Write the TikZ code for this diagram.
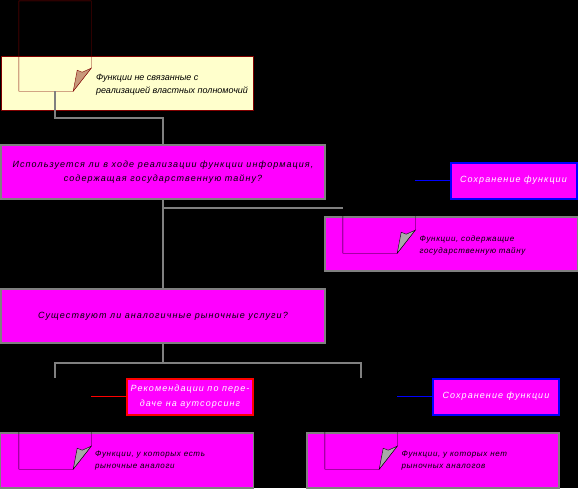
\documentclass[tikz,border=0pt]{standalone}
\usepackage{fontspec}
\setmainfont{Liberation Sans}
\usetikzlibrary{calc,positioning}
\definecolor{boxmagenta}{HTML}{FF00FF}
\definecolor{noteyellow}{HTML}{FFFFCC}
\definecolor{notered}{HTML}{800000}
\definecolor{foldtan}{HTML}{C8987A}
\definecolor{foldgray}{HTML}{A8A8A8}
\definecolor{linegray}{HTML}{808080}
\definecolor{keepblue}{HTML}{0000FF}
\definecolor{outred}{HTML}{FF0000}

% note icon with folded corner: node, line colour, fold fill
\newcommand{\notefold}[3]{%
  \draw[#2] (#1.north west) -- (#1.north east) -- ($(#1.south east)+(0,-23)$)
    -- ($(#1.south east)+(-18,0)$) -- (#1.south west) -- cycle;
  \filldraw[draw=#2,fill=#3] ($(#1.south east)+(-18,0)$) -- ($(#1.south east)+(-14,-21)$)
    -- ($(#1.south east)+(-9,-19)$) -- ($(#1.south east)+(0,-23)$) -- cycle;
}

\begin{document}
\begin{tikzpicture}[
    x=1pt,y=-1pt,
    font=\fontsize{9}{13}\selectfont\itshape,
    questionbox/.style={draw=linegray,line width=1.6pt,fill=boxmagenta,
      minimum width=324pt,minimum height=54pt,inner sep=0pt,align=center,
      font=\fontsize{9}{14.5}\selectfont\itshape\addfontfeature{LetterSpace=12}},
    groupbox/.style={draw=linegray,line width=1.2pt,fill=boxmagenta,
      minimum width=253pt,minimum height=54pt,inner sep=0pt},
    keepbox/.style={draw=keepblue,line width=2pt,fill=boxmagenta,
      minimum width=126pt,minimum height=36pt,inner sep=0pt,text=white,
      font=\fontsize{9}{14.5}\selectfont\itshape\addfontfeature{LetterSpace=12}},
    outbox/.style={keepbox,draw=outred,align=center,text=white},
    noteicon/.style={minimum width=72pt,minimum height=90pt,inner sep=0pt},
    notetext/.style={anchor=west,align=left,inner sep=0pt,
      font=\fontsize{8}{12.5}\selectfont\itshape\addfontfeature{LetterSpace=8}},
    linkline/.style={draw=linegray,line width=1.5pt},
    keepline/.style={draw=keepblue,line width=1.3pt},
    outline/.style={draw=outred,line width=1.3pt}
  ]
    \fill[black] (0,0) rectangle (578,488);
    \useasboundingbox (0,0) rectangle (578,488);

    % boxes
    \node[draw=notered,fill=noteyellow,minimum width=252pt,minimum height=54pt,
      inner sep=0pt] (f1) at (127,83) {};
    \node[questionbox] (q1) at (163,172)
      {Используется ли в ходе реализации функции информация,\\
       содержащая государственную тайну?};
    \node[keepbox] (k1) at (513.5,180.5) {Сохранение функции};
    \node[groupbox] (f2) at (451.5,244) {};
    \node[questionbox] (q2) at (163,316)
      {Существуют ли аналогичные рыночные услуги?};
    \node[outbox] (r1) at (190,396.5)
      {Рекомендации по пере-\\даче на аутсорсинг};
    \node[keepbox] (k2) at (496,396.5) {Сохранение функции};
    \node[groupbox,minimum height=55pt] (f3) at (127,460.5) {};
    \node[groupbox,minimum height=55pt,minimum width=252pt] (f4) at (433,460.5) {};

    % texts of the groups
    \node[notetext,font=\fontsize{9}{13}\selectfont\itshape] (f1t) at ([xshift=95pt,yshift=-2pt]f1.west)
      {Функции не связанные с\\реализацией властных полномочий};
    \node[notetext] (f2t) at ([xshift=95pt,yshift=-1.5pt]f2.west)
      {Функции, содержащие\\государственную тайну};
    \node[notetext] (f3t) at ([xshift=95pt]f3.west)
      {Функции, у которых есть\\рыночные аналоги};
    \node[notetext] (f4t) at ([xshift=95pt]f4.west)
      {Функции, у которых нет\\рыночных аналогов};

    % note icons
    \node[noteicon] (n1) at (55,46) {};
    \node[noteicon] (n2) at (379,208) {};
    \node[noteicon,minimum height=91pt] (n3) at (55,423.5) {};
    \node[noteicon,minimum height=91pt] (n4) at (361,423.5) {};
    \notefold{n1}{notered}{foldtan}
    \notefold{n2}{black}{foldgray}
    \notefold{n3}{black}{foldgray}
    \notefold{n4}{black}{foldgray}

    % connectors
    \draw[linkline] (n1.south) -- ++(0,27) -| (q1.north);
    \draw[linkline] (q1.south) -- (q2.north);
    \draw[linkline] (q1.south |- n2.west) -- (n2.west);
    \draw[keepline] (n2.east |- k1.west) -- (k1.west);
    \draw[linkline] (q2.south) -- ++(0,19) -| (n3.north);
    \draw[linkline] ($(q2.south)+(0,19)$) -| (n4.north);
    \draw[outline] (n3.east |- r1.west) -- (r1.west);
    \draw[keepline] (n4.east |- k2.west) -- (k2.west);
  \end{tikzpicture}
\end{document}
